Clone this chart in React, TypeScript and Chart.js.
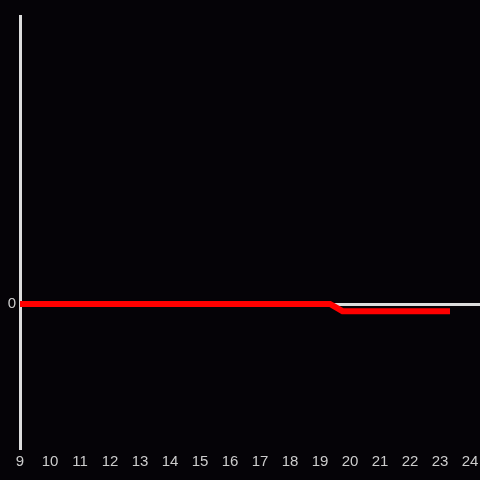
import React, { useEffect, useRef } from "react";
import { Chart, registerables } from "chart.js";

Chart.register(...registerables);

const hours: number[] = [9, 19.333, 19.75, 23.333];
const values: number[] = [0, 0, -0.05, -0.05];
const xTickValues: number[] = [9, 10, 11, 12, 13, 14, 15, 16, 17, 18, 19, 20, 21, 22, 23, 24];
const yTickValues: number[] = [0];

const BG = "#050307";

export default function App() {
  const ref = useRef<HTMLCanvasElement | null>(null);
  useEffect(() => {
    document.body.style.margin = "0";
    document.body.style.background = BG;
    const canvas = ref.current!;
    const bgPlugin = {
      id: "bg",
      beforeDraw(chart: any) {
        const c = chart.ctx;
        c.save();
        c.fillStyle = BG;
        c.fillRect(0, 0, chart.width, chart.height);
        c.restore();
      },
    };
    const chart = new Chart(canvas, {
      type: "line",
      data: {
        datasets: [
          {
            data: hours.map((h, i) => ({ x: h, y: values[i] })),
            borderColor: "#ff0000",
            borderWidth: 6,
            pointRadius: 0,
            tension: 0,
            fill: false,
          },
        ],
      },
      options: {
        animation: false,
        responsive: false,
        maintainAspectRatio: false,
        layout: { padding: { top: 16, right: 0, left: 0, bottom: 0 } },
        plugins: { legend: { display: false }, tooltip: { enabled: false } },
        scales: {
          x: {
            type: "linear",
            min: 9,
            max: 24.333,
            afterBuildTicks: (s: any) => {
              s.ticks = xTickValues.map((v) => ({ value: v }));
            },
            afterFit: (s: any) => {
              s.height = 32;
              s.paddingLeft = 0;
              s.paddingRight = 0;
            },
            grid: { display: false, drawTicks: false },
            border: { display: false },
            ticks: {
              color: "#cccccc",
              padding: 5,
              maxRotation: 0,
              autoSkip: false,
              font: { family: "'Liberation Sans', Arial, sans-serif", size: 15 },
              callback: (v: any) => String(v),
            },
          },
          y: {
            type: "linear",
            min: -1,
            max: 2,
            afterBuildTicks: (s: any) => {
              s.ticks = yTickValues.map((v) => ({ value: v }));
            },
            afterFit: (s: any) => {
              s.width = 20;
              s.paddingTop = 0;
              s.paddingBottom = 0;
            },
            grid: { color: "#dddddd", lineWidth: 3, drawTicks: false },
            border: { display: true, color: "#dddddd", width: 3 },
            ticks: {
              color: "#cccccc",
              padding: 4,
              font: { family: "'Liberation Sans', Arial, sans-serif", size: 15 },
              callback: (v: any) => String(v),
            },
          },
        },
      },
      plugins: [bgPlugin],
    });
    return () => chart.destroy();
  }, []);
  return <canvas ref={ref} width={480} height={480} style={{ display: "block" }} />;
}
